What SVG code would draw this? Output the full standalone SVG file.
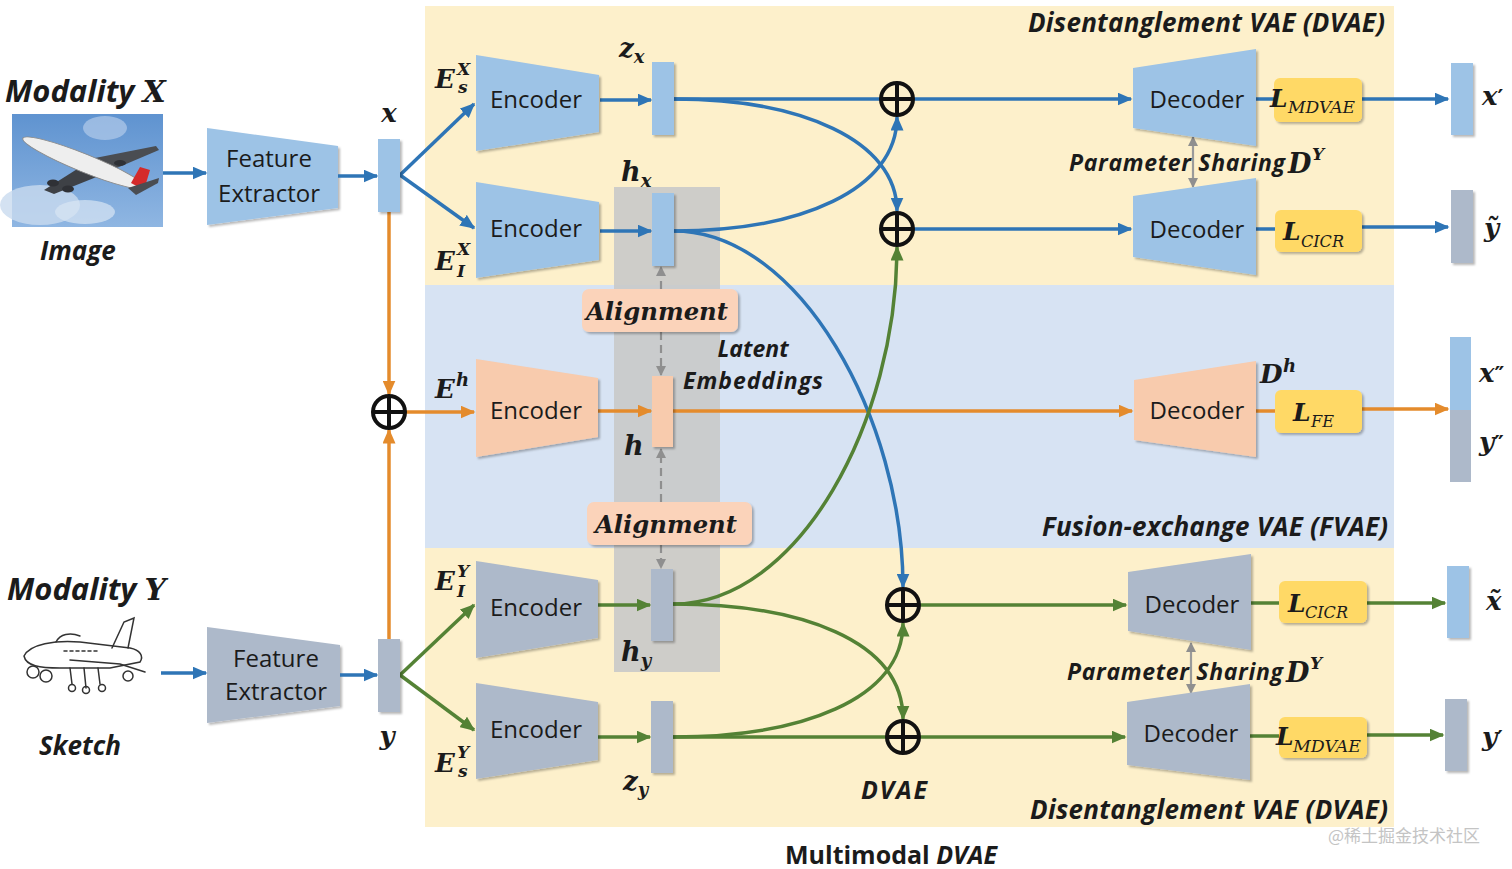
<svg xmlns="http://www.w3.org/2000/svg" width="1512" height="869" viewBox="0 0 1512 869">
<defs>
<style>
.lbl{font-family:"Open Sans","Liberation Sans",sans-serif;font-size:24px;fill:#1b1b1b;text-anchor:middle}
.bi{font-family:"Open Sans","Liberation Sans",sans-serif;font-weight:700;font-style:italic;fill:#1b1b1b}
.m{font-family:"DejaVu Serif","Liberation Serif",serif;font-weight:700;font-style:italic;fill:#1b1b1b}
.ms{font-family:"DejaVu Serif","Liberation Serif",serif;font-style:italic;fill:#1b1b1b}
.pr{font-family:"DejaVu Sans","Liberation Sans",sans-serif;font-style:normal;font-weight:700}
.blue{fill:#9dc3e6}
.gray{fill:#adb9ca}
.peach{fill:#f8cbad}
.loss{fill:#ffd966}
.cb{stroke:#2e75b6;stroke-width:3.5;fill:none}
.cg{stroke:#548235;stroke-width:3.5;fill:none}
.co{stroke:#e48b2c;stroke-width:3.5;fill:none}
.dash{stroke:#8f8f8f;stroke-width:2.2;stroke-dasharray:8 5;fill:none}
.par{stroke:#9a9a9a;stroke-width:2.2;fill:none}
.op{fill:none;stroke:#111;stroke-width:4}
</style>
<filter id="sh" x="-10%" y="-10%" width="130%" height="130%">
<feDropShadow dx="2" dy="2" stdDeviation="1.2" flood-color="#000" flood-opacity="0.28"/>
</filter>
<marker id="ab" viewBox="0 0 10 10" refX="9" refY="5" markerWidth="15" markerHeight="13" markerUnits="userSpaceOnUse" orient="auto" preserveAspectRatio="none"><path d="M0,0 L10,5 L0,10 z" fill="#2e75b6"/></marker>
<marker id="ag" viewBox="0 0 10 10" refX="9" refY="5" markerWidth="15" markerHeight="13" markerUnits="userSpaceOnUse" orient="auto" preserveAspectRatio="none"><path d="M0,0 L10,5 L0,10 z" fill="#548235"/></marker>
<marker id="ao" viewBox="0 0 10 10" refX="9" refY="5" markerWidth="15" markerHeight="13" markerUnits="userSpaceOnUse" orient="auto" preserveAspectRatio="none"><path d="M0,0 L10,5 L0,10 z" fill="#e48b2c"/></marker>
<marker id="ay" viewBox="0 0 10 10" refX="9" refY="5" markerWidth="10" markerHeight="10" markerUnits="userSpaceOnUse" orient="auto-start-reverse" preserveAspectRatio="none"><path d="M0,0 L10,5 L0,10 z" fill="#8f8f8f"/></marker>
<linearGradient id="sky" x1="0" y1="0" x2="0" y2="1">
<stop offset="0" stop-color="#5f93d0"/><stop offset="1" stop-color="#8fb6e2"/>
</linearGradient>
</defs>

<rect width="1512" height="869" fill="#ffffff"/>

<g id="panels">
<rect x="425" y="6" width="969" height="279" fill="#fdf0cb"/>
<rect x="425" y="285" width="969" height="263" fill="#d7e3f3"/>
<rect x="425" y="548" width="969" height="279" fill="#fdf0cb"/>
<rect x="614" y="187" width="106" height="485" fill="#c9c9c9" opacity="0.9"/>
</g>

<g id="panel-labels">
<text class="bi" x="1028" y="32" font-size="26" textLength="357">Disentanglement VAE (DVAE)</text>
<text class="bi" x="1042" y="536" font-size="26" textLength="346">Fusion-exchange VAE (FVAE)</text>
<text class="bi" x="1030" y="819" font-size="26" textLength="358">Disentanglement VAE (DVAE)</text>
<text class="bi" x="861" y="799" font-size="25" textLength="66">DVAE</text>
<text x="785" y="864" font-family="Open Sans, Liberation Sans, sans-serif" font-size="25" font-weight="700" fill="#1b1b1b">Multimodal <tspan font-style="italic">DVAE</tspan></text>
<text x="1328" y="842" font-family="Noto Sans CJK SC, Noto Sans, sans-serif" font-size="17" fill="#c4c4c4">@稀土掘金技术社区</text>
</g>

<g id="modality-x">
<text class="bi" x="5" y="102" font-size="31">Modality <tspan class="m" font-size="30">X</tspan></text>
<rect x="12" y="114" width="151" height="113" fill="url(#sky)"/>
<ellipse cx="40" cy="205" rx="40" ry="20" fill="#c9dbef" opacity="0.8"/>
<ellipse cx="105" cy="128" rx="22" ry="12" fill="#b2cbe9" opacity="0.7"/>
<ellipse cx="85" cy="212" rx="30" ry="12" fill="#d8e5f3" opacity="0.7"/>
<polygon points="95,158 156,146 159,150 112,170" fill="#4a4d52"/>
<polygon points="82,166 44,190 54,194 104,174" fill="#3e4146"/>
<ellipse cx="84" cy="163" rx="66" ry="9" transform="rotate(22 84 163)" fill="#eeeeee" stroke="#8a8a8a" stroke-width="1"/>
<polygon points="131,183 140,167 150,170 144,190" fill="#d42a2a"/>
<polygon points="128,188 159,178 158,183 136,195" fill="#4a4d52"/>
<ellipse cx="53" cy="183" rx="6" ry="3.5" fill="#2f3136"/>
<ellipse cx="68" cy="189" rx="6" ry="3.5" fill="#2f3136"/>
<ellipse cx="120" cy="163" rx="6" ry="3" fill="#2f3136"/>
<text class="bi" x="40" y="260" font-size="26">Image</text>
</g>

<g id="modality-y">
<text class="bi" x="7" y="600" font-size="31">Modality <tspan class="m" font-size="30">Y</tspan></text>
<g fill="none" stroke="#333" stroke-width="1.5" stroke-linecap="round">
<path d="M24,656 C30,644 55,640 80,642 L130,648 C140,650 144,656 140,662 L110,668 L60,668 C40,668 26,666 24,656 Z"/>
<path d="M112,648 L124,622 L134,618 L128,648"/>
<path d="M56,642 C60,634 70,632 80,636"/>
<path d="M70,660 L120,664 L145,672"/>
<path d="M64,651 L100,651" stroke-dasharray="3 3"/>
<circle cx="33" cy="672" r="6"/><circle cx="46" cy="676" r="6"/>
<circle cx="128" cy="676" r="5"/>
<path d="M70,668 L72,684 M84,668 L86,688 M98,668 L100,684"/>
<circle cx="72" cy="688" r="3.5"/><circle cx="86" cy="690" r="3.5"/><circle cx="102" cy="688" r="3.5"/>
</g>
<text class="bi" x="39" y="755" font-size="26">Sketch</text>
</g>

<g id="fe-x">
<polygon class="blue" filter="url(#sh)" points="207,128 338,146 338,208 207,225"/>
<text class="lbl" x="269" y="167">Feature</text>
<text class="lbl" x="269" y="202">Extractor</text>
</g>
<g id="fe-y">
<polygon class="gray" filter="url(#sh)" points="207,627 340,645 340,706 207,723"/>
<text class="lbl" x="276" y="667">Feature</text>
<text class="lbl" x="276" y="700">Extractor</text>
</g>

<g id="connectors">
<line class="cb" x1="163" y1="173" x2="206" y2="173" marker-end="url(#ab)"/>
<line class="cb" x1="338" y1="176" x2="377" y2="176" marker-end="url(#ab)"/>
<line class="cb" x1="161" y1="673" x2="206" y2="673" marker-end="url(#ab)"/>
<line class="cb" x1="340" y1="675" x2="377" y2="675" marker-end="url(#ab)"/>
<line class="cb" x1="400" y1="175" x2="474" y2="104" marker-end="url(#ab)"/>
<line class="cb" x1="400" y1="175" x2="474" y2="228" marker-end="url(#ab)"/>
<line class="cg" x1="400" y1="675" x2="474" y2="605" marker-end="url(#ag)"/>
<line class="cg" x1="400" y1="675" x2="474" y2="730" marker-end="url(#ag)"/>
<line class="co" x1="389" y1="212" x2="389" y2="394" marker-end="url(#ao)"/>
<line class="co" x1="389" y1="639" x2="389" y2="430" marker-end="url(#ao)"/>
<line class="co" x1="406" y1="412" x2="474" y2="412" marker-end="url(#ao)"/>
<line class="co" x1="598" y1="411" x2="651" y2="411" marker-end="url(#ao)"/>
<line class="co" x1="673" y1="411" x2="1132" y2="411" marker-end="url(#ao)"/>
<line class="co" x1="1256" y1="411" x2="1276" y2="411"/>
<line class="co" x1="1362" y1="409" x2="1448" y2="409" marker-end="url(#ao)"/>
<line class="cb" x1="600" y1="100" x2="651" y2="100" marker-end="url(#ab)"/>
<line class="cb" x1="600" y1="231" x2="651" y2="231" marker-end="url(#ab)"/>
<line class="cg" x1="598" y1="605" x2="650" y2="605" marker-end="url(#ag)"/>
<line class="cg" x1="598" y1="737" x2="650" y2="737" marker-end="url(#ag)"/>
<line class="cb" x1="674" y1="99" x2="1131" y2="99" marker-end="url(#ab)"/>
<path class="cb" d="M674,99 C800,99 897,140 897,211" marker-end="url(#ab)"/>
<path class="cb" d="M674,231 C800,231 897,190 897,117" marker-end="url(#ab)"/>
<path class="cb" d="M674,231 C800,231 903,420 903,587" marker-end="url(#ab)"/>
<line class="cb" x1="914" y1="229" x2="1131" y2="229" marker-end="url(#ab)"/>
<path class="cg" d="M673,604 C800,604 897,420 897,247" marker-end="url(#ag)"/>
<path class="cg" d="M673,604 C800,604 903,640 903,719" marker-end="url(#ag)"/>
<path class="cg" d="M673,737 C800,737 903,700 903,623" marker-end="url(#ag)"/>
<line class="cg" x1="673" y1="737" x2="1125" y2="737" marker-end="url(#ag)"/>
<line class="cg" x1="920" y1="605" x2="1126" y2="605" marker-end="url(#ag)"/>
<line class="cb" x1="1256" y1="99" x2="1276" y2="99"/>
<line class="cb" x1="1362" y1="99" x2="1448" y2="99" marker-end="url(#ab)"/>
<line class="cb" x1="1256" y1="229" x2="1276" y2="229"/>
<line class="cb" x1="1362" y1="227" x2="1448" y2="227" marker-end="url(#ab)"/>
<line class="cg" x1="1251" y1="603" x2="1280" y2="603"/>
<line class="cg" x1="1367" y1="603" x2="1445" y2="603" marker-end="url(#ag)"/>
<line class="cg" x1="1250" y1="736" x2="1280" y2="736"/>
<line class="cg" x1="1367" y1="735" x2="1443" y2="735" marker-end="url(#ag)"/>
<line class="dash" x1="661" y1="289" x2="661" y2="267" marker-end="url(#ay)"/>
<line class="dash" x1="661" y1="332" x2="661" y2="375" marker-end="url(#ay)"/>
<line class="dash" x1="661" y1="502" x2="661" y2="449" marker-end="url(#ay)"/>
<line class="dash" x1="661" y1="545" x2="661" y2="568" marker-end="url(#ay)"/>
<line class="par" x1="1193" y1="137" x2="1193" y2="187" marker-start="url(#ay)" marker-end="url(#ay)"/>
<line class="par" x1="1191" y1="643" x2="1191" y2="693" marker-start="url(#ay)" marker-end="url(#ay)"/>
</g>

<g id="sum-x" class="op"><circle cx="389" cy="412" r="16"/><path d="M389,396 V428 M373,412 H405"/></g>
<g id="sum-1" class="op"><circle cx="897" cy="99" r="16"/><path d="M897,83 V115 M881,99 H913"/></g>
<g id="sum-2" class="op"><circle cx="897" cy="229" r="16"/><path d="M897,213 V245 M881,229 H913"/></g>
<g id="sum-3" class="op"><circle cx="903" cy="605" r="16"/><path d="M903,589 V621 M887,605 H919"/></g>
<g id="sum-4" class="op"><circle cx="903" cy="737" r="16"/><path d="M903,721 V753 M887,737 H919"/></g>

<g id="vec-x"><rect class="blue" filter="url(#sh)" x="378" y="139" width="22" height="73"/><text class="m" x="389" y="122" font-size="26" text-anchor="middle">x</text></g>
<g id="vec-y"><rect class="gray" filter="url(#sh)" x="378" y="639" width="22" height="73"/><text class="m" x="387" y="745" font-size="26" text-anchor="middle">y</text></g>

<g id="enc-sx">
<polygon class="blue" filter="url(#sh)" points="476,55 599,75 599,132 476,151"/>
<text class="lbl" x="536" y="108">Encoder</text>
<text class="m" x="435" y="88" font-size="26">E</text><text class="m" x="457" y="75" font-size="17">X</text><text class="m" x="458" y="93" font-size="17">s</text>
</g>
<g id="enc-ix">
<polygon class="blue" filter="url(#sh)" points="476,182 599,202 599,260 476,278"/>
<text class="lbl" x="536" y="237">Encoder</text>
<text class="m" x="435" y="270" font-size="26">E</text><text class="m" x="457" y="255" font-size="17">X</text><text class="m" x="457" y="277" font-size="17">I</text>
</g>
<g id="enc-h">
<polygon class="peach" filter="url(#sh)" points="476,359 598,378 598,437 476,457"/>
<text class="lbl" x="536" y="419">Encoder</text>
<text class="m" x="435" y="398" font-size="26">E</text><text class="m" x="456" y="386" font-size="18">h</text>
</g>
<g id="enc-iy">
<polygon class="gray" filter="url(#sh)" points="476,561 598,580 598,638 476,658"/>
<text class="lbl" x="536" y="616">Encoder</text>
<text class="m" x="435" y="590" font-size="26">E</text><text class="m" x="457" y="577" font-size="17">Y</text><text class="m" x="457" y="597" font-size="17">I</text>
</g>
<g id="enc-sy">
<polygon class="gray" filter="url(#sh)" points="476,683 598,702 598,760 476,779"/>
<text class="lbl" x="536" y="738">Encoder</text>
<text class="m" x="435" y="772" font-size="26">E</text><text class="m" x="457" y="758" font-size="17">Y</text><text class="m" x="458" y="777" font-size="17">s</text>
</g>

<g id="vec-zx"><rect class="blue" filter="url(#sh)" x="652" y="62" width="22" height="73"/><text class="m" x="619" y="57" font-size="26">z<tspan font-size="18" dy="6">x</tspan></text></g>
<g id="vec-hx"><rect class="blue" filter="url(#sh)" x="652" y="193" width="22" height="73"/><text class="m" x="621" y="181" font-size="27">h<tspan font-size="18" dy="6">x</tspan></text></g>
<g id="vec-h"><rect class="peach" filter="url(#sh)" x="652" y="376" width="21" height="71"/><text class="m" x="624" y="455" font-size="27">h</text></g>
<g id="vec-hy"><rect class="gray" filter="url(#sh)" x="651" y="569" width="22" height="72"/><text class="m" x="621" y="661" font-size="27">h<tspan font-size="18" dy="6">y</tspan></text></g>
<g id="vec-zy"><rect class="gray" filter="url(#sh)" x="651" y="701" width="22" height="72"/><text class="m" x="623" y="790" font-size="26">z<tspan font-size="18" dy="6">y</tspan></text></g>

<g id="align-1">
<rect x="582" y="289" width="156" height="43" rx="7" fill="#fbd3ba" filter="url(#sh)"/>
<text class="m" x="586" y="320" font-size="25" textLength="142" lengthAdjust="spacingAndGlyphs">Alignment</text>
</g>
<g id="align-2">
<rect x="587" y="502" width="165" height="43" rx="7" fill="#fbd3ba" filter="url(#sh)"/>
<text class="m" x="595" y="533" font-size="25" textLength="142" lengthAdjust="spacingAndGlyphs">Alignment</text>
</g>
<g id="latent-label">
<text class="bi" x="753" y="357" font-size="23" text-anchor="middle">Latent</text>
<text class="bi" x="683" y="389" font-size="23" textLength="140">Embeddings</text>
</g>

<g id="dec-1">
<polygon class="blue" filter="url(#sh)" points="1133,68 1256,49 1256,146 1133,128"/>
<text class="lbl" x="1197" y="108">Decoder</text>
</g>
<g id="dec-2">
<polygon class="blue" filter="url(#sh)" points="1133,196 1256,178 1256,275 1133,257"/>
<text class="lbl" x="1197" y="238">Decoder</text>
</g>
<g id="dec-h">
<polygon class="peach" filter="url(#sh)" points="1134,380 1256,361 1256,457 1134,440"/>
<text class="lbl" x="1197" y="419">Decoder</text>
<text class="m" x="1260" y="383" font-size="26">D</text><text class="m" x="1283" y="372" font-size="18">h</text>
</g>
<g id="dec-3">
<polygon class="gray" filter="url(#sh)" points="1128,572 1251,554 1251,650 1128,631"/>
<text class="lbl" x="1192" y="613">Decoder</text>
</g>
<g id="dec-4">
<polygon class="gray" filter="url(#sh)" points="1127,702 1250,684 1250,780 1127,765"/>
<text class="lbl" x="1191" y="742">Decoder</text>
</g>

<g id="param-sharing">
<text class="bi" x="1069" y="171" font-size="23" textLength="216">Parameter Sharing</text>
<text class="m" x="1288" y="173" font-size="27">D</text><text class="m" x="1312" y="160" font-size="17">Y</text>
<text class="bi" x="1067" y="680" font-size="23" textLength="216">Parameter Sharing</text>
<text class="m" x="1286" y="682" font-size="27">D</text><text class="m" x="1310" y="669" font-size="17">Y</text>
</g>

<g id="loss-1">
<rect class="loss" filter="url(#sh)" x="1274" y="78" width="88" height="44" rx="6"/>
<text class="m" x="1270" y="107" font-size="25">L</text><text class="ms" x="1288" y="113" font-size="16" textLength="67" lengthAdjust="spacingAndGlyphs">MDVAE</text>
</g>
<g id="loss-2">
<rect class="loss" filter="url(#sh)" x="1275" y="210" width="87" height="42" rx="6"/>
<text class="m" x="1283" y="240" font-size="25">L</text><text class="ms" x="1301" y="247" font-size="16" textLength="43" lengthAdjust="spacingAndGlyphs">CICR</text>
</g>
<g id="loss-fe">
<rect class="loss" filter="url(#sh)" x="1275" y="390" width="87" height="43" rx="6"/>
<text class="m" x="1293" y="421" font-size="25">L</text><text class="ms" x="1311" y="427" font-size="16" textLength="23" lengthAdjust="spacingAndGlyphs">FE</text>
</g>
<g id="loss-3">
<rect class="loss" filter="url(#sh)" x="1279" y="581" width="88" height="42" rx="6"/>
<text class="m" x="1288" y="612" font-size="25">L</text><text class="ms" x="1305" y="618" font-size="16" textLength="43" lengthAdjust="spacingAndGlyphs">CICR</text>
</g>
<g id="loss-4">
<rect class="loss" filter="url(#sh)" x="1279" y="717" width="88" height="41" rx="6"/>
<text class="m" x="1276" y="745" font-size="25">L</text><text class="ms" x="1293" y="752" font-size="16" textLength="68" lengthAdjust="spacingAndGlyphs">MDVAE</text>
</g>

<g id="out-x1"><rect class="blue" filter="url(#sh)" x="1451" y="63" width="22" height="72"/><text class="m" x="1482" y="105" font-size="26">x<tspan class="pr" font-size="22">′</tspan></text></g>
<g id="out-y1"><rect class="gray" filter="url(#sh)" x="1451" y="190" width="22" height="73"/><text class="m" x="1484" y="237" font-size="26">ỹ</text></g>
<g id="out-xy2">
<rect class="blue" x="1450" y="337" width="21" height="73"/>
<rect class="gray" x="1450" y="410" width="21" height="72"/>
<text class="m" x="1479" y="382" font-size="26">x<tspan class="pr" font-size="22">″</tspan></text>
<text class="m" x="1479" y="451" font-size="26">y<tspan class="pr" font-size="22">″</tspan></text>
</g>
<g id="out-x2"><rect class="blue" filter="url(#sh)" x="1447" y="566" width="22" height="72"/><text class="m" x="1486" y="610" font-size="26">x̃</text></g>
<g id="out-y2"><rect class="gray" filter="url(#sh)" x="1445" y="699" width="22" height="72"/><text class="m" x="1482" y="746" font-size="26">y<tspan class="pr" font-size="22">′</tspan></text></g>
</svg>
